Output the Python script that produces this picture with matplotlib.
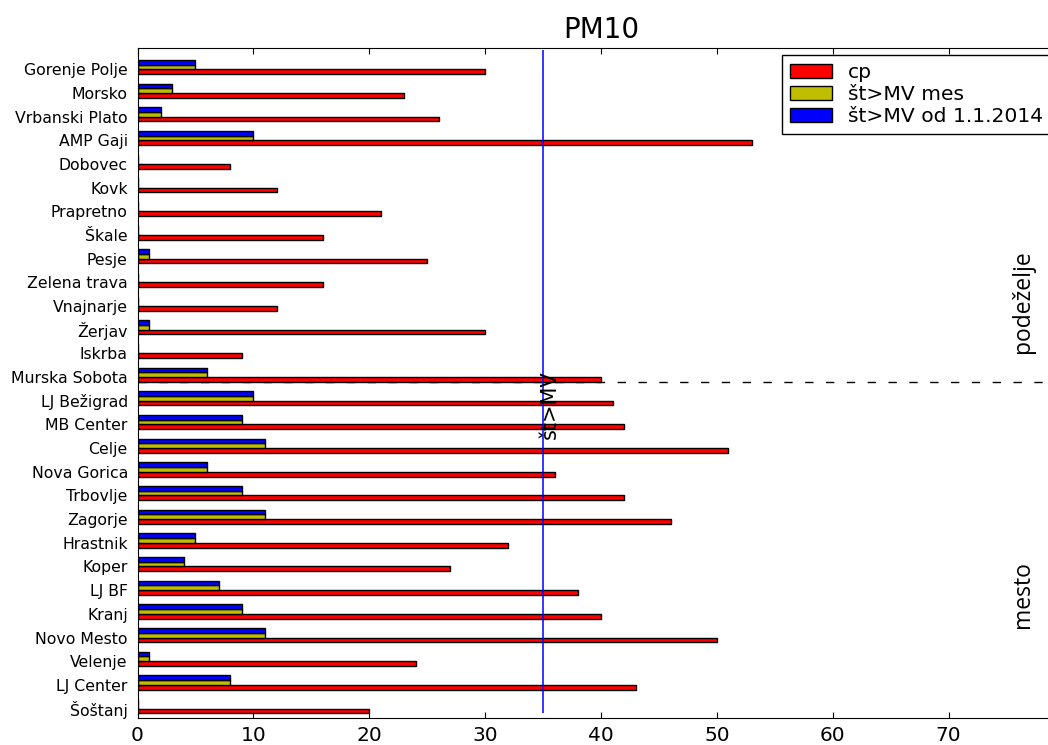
import matplotlib
matplotlib.use("Agg")
import matplotlib.pyplot as plt
import numpy as np

# Data (bottom-to-top order as drawn)
stations = ["Šoštanj", "LJ Center", "Velenje", "Novo Mesto", "Kranj", "LJ BF",
            "Koper", "Hrastnik", "Zagorje", "Trbovlje", "Nova Gorica", "Celje",
            "MB Center", "LJ Bežigrad", "Murska Sobota", "Iskrba", "Žerjav",
            "Vnajnarje", "Zelena trava", "Pesje", "Škale", "Prapretno", "Kovk",
            "Dobovec", "AMP Gaji", "Vrbanski Plato", "Morsko", "Gorenje Polje"]
cp = [20, 43, 24, 50, 40, 38, 27, 32, 46, 42, 36, 51, 42, 41, 40, 9, 30,
      12, 16, 25, 16, 21, 12, 8, 53, 26, 23, 30]
st_mes = [0, 8, 1, 11, 9, 7, 4, 5, 11, 9, 6, 11, 9, 10, 6, 0, 1,
          0, 0, 1, 0, 0, 0, 0, 10, 2, 3, 5]
st_od = [0, 8, 1, 11, 9, 7, 4, 5, 11, 9, 6, 11, 9, 10, 6, 0, 1,
         0, 0, 1, 0, 0, 0, 0, 10, 2, 3, 5]
labels = ["cp", "št>MV mes", "št>MV od 1.1.2014"]
limit_value = 35
split_y = 14
title = "PM10"

W, H = 1048, 745
left_px, right_px = 137.5, 1400.0
px_per_unit = 11.5875
fig = plt.figure(figsize=(W / 100, H / 100), dpi=100)
ax = fig.add_axes([left_px / W, 27 / H, (right_px - left_px) / W, 670 / H])

ind = np.arange(len(stations))
w = 0.2
ax.barh(ind, cp, height=w, align="edge", color="#ff0000", edgecolor="k",
        linewidth=1, label=labels[0])
ax.barh(ind + w, st_mes, height=w, align="edge", color="#bfbf00", edgecolor="k",
        linewidth=1, label=labels[1])
ax.barh(ind + 2 * w, st_od, height=w, align="edge", color="#0000ff", edgecolor="k",
        linewidth=1, label=labels[2])

ax.vlines(limit_value, 0, 28, color="#0000ff", linewidth=1.1, zorder=3)
ax.axhline(split_y, color="k", linestyle=(0, (6, 9)), linewidth=1, zorder=2)

ax.text(34.75, 13.05, "št>MV", rotation=90, ha="left", va="center", fontsize=15)
ax.text(76.4, 17.4, "podeželje", rotation=90, ha="center", va="center",
        fontsize=16.5, family="Open Sans")
ax.text(76.4, 5.0, "mesto", rotation=90, ha="center", va="center",
        fontsize=16.5, family="Open Sans")

ax.set_xlim(0, (right_px - left_px) / px_per_unit)
ax.set_ylim(-0.2, 28.1)
ax.set_yticks(ind + w)
ax.set_yticklabels(stations, fontsize=11.3)
ax.set_xticks(np.arange(0, 80, 10))
ax.tick_params(axis="x", direction="in", top=True, length=4, labelsize=14.5, pad=6)
ax.tick_params(axis="y", direction="in", right=False, length=4, pad=7)
ax.spines["right"].set_visible(False)

ax.set_title(title, fontsize=20, pad=7, x=(601 - left_px) / (right_px - left_px))

leg = fig.legend(loc="upper left", bbox_to_anchor=(781.7 / W, 1 - 55 / H),
                 borderaxespad=0, fontsize=14.6, fancybox=False, framealpha=1,
                 edgecolor="k", handlelength=2.1, handleheight=0.7,
                 handletextpad=0.75, labelspacing=0.15, borderpad=0.4)
leg.get_frame().set_linewidth(1)

fig.savefig("out.png", dpi=100)
